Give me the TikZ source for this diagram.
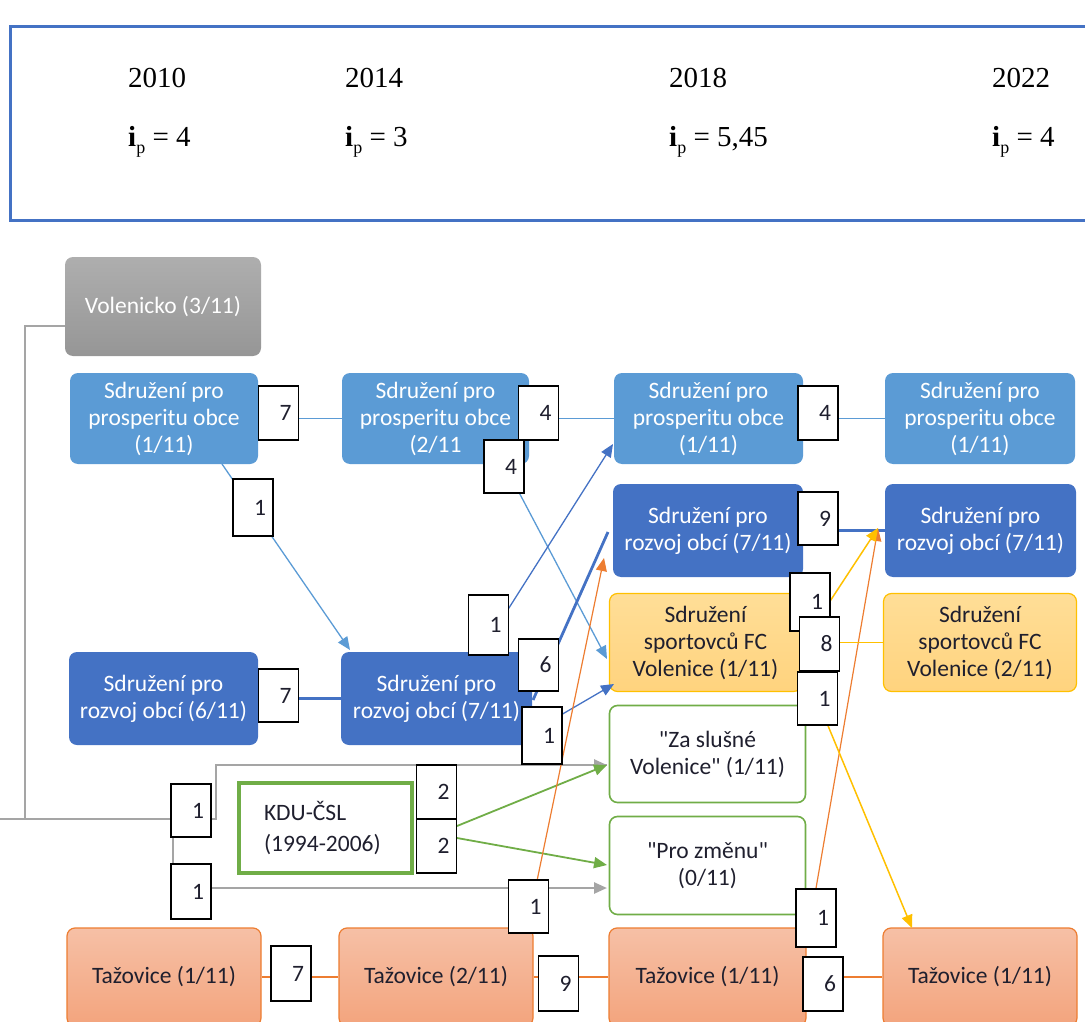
\documentclass[tikz,border=0pt]{standalone}
\usepackage{fontspec}
\setmainfont{Carlito}
\newfontfamily\qfont{Carlito}[Ligatures=TeXOff]
\newfontfamily\hdr{Liberation Serif}
\usetikzlibrary{arrows.meta}
\definecolor{lblue}{HTML}{5B9BD5}
\definecolor{dblue}{HTML}{4472C4}
\definecolor{volA}{HTML}{AEAEAE}
\definecolor{volB}{HTML}{969696}
\definecolor{gline}{HTML}{A5A5A5}
\definecolor{grn}{HTML}{70AD47}
\definecolor{orng}{HTML}{ED7D31}
\definecolor{gold}{HTML}{FFC000}
\definecolor{tazA}{HTML}{F6C0A6}
\definecolor{tazB}{HTML}{F3A47D}
\definecolor{fcA}{HTML}{FFDE97}
\definecolor{fcB}{HTML}{FFD37E}
\definecolor{txt}{HTML}{1F1F2E}
\begin{document}
\begin{tikzpicture}[x=1pt,y=-1pt,
  sz/.style 2 args={minimum width=#1,minimum height=#2},
  box/.style={rounded corners=8pt, inner sep=2pt, align=center, font=\fontsize{23.5}{27}\selectfont},
  volbox/.style={box, top color=volA, bottom color=volB, text=white},
  ppbox/.style={box, fill=lblue, text=white},
  robox/.style={box, fill=dblue, text=white},
  fcbox/.style={box, top color=fcA, bottom color=fcB, draw=gold, line width=1.2pt, text=txt},
  grbox/.style={box, fill=white, draw=grn, line width=1.6pt, text=txt, font=\qfont\fontsize{23.5}{27}\selectfont},
  tazbox/.style={box, top color=tazA, bottom color=tazB, draw=orng, line width=1.2pt, text=txt},
  lab/.style={draw=black, line width=1.6pt, fill=white, minimum width=40pt, minimum height=54pt,
    inner xsep=7pt, inner ysep=0pt, text width=26pt, align=right, font=\fontsize{23.5}{27}\selectfont, text=txt},
  arr/.style={-{Triangle[length=13pt,width=11pt]}},
  lb/.style={draw=lblue, line width=1.3pt},
  db/.style={draw=dblue, line width=1.3pt},
  dbthick/.style={draw=dblue, line width=2.8pt},
  gl/.style={draw=gline, line width=2.5pt},
  gn/.style={draw=grn, line width=1.8pt},
  orl/.style={draw=orng, line width=1.2pt},
  gdl/.style={draw=gold, line width=1.5pt},
  hdrtxt/.style={anchor=base west, inner sep=0pt, font=\hdr\fontsize{29}{32}\selectfont}
]
\useasboundingbox (0,0) rectangle (1085,1022);
% header
\draw[draw=dblue, line width=3pt] (1100,27) -- (10,27) -- (10,220) -- (1100,220);
\node[hdrtxt] (y10) at (128,88) {2010};
\node[hdrtxt] (y14) at (345,88) {2014};
\node[hdrtxt] (y18) at (669,88) {2018};
\node[hdrtxt] (y22) at (992,88) {2022};
\newcommand{\ipx}{{\bfseries i}\raisebox{-6pt}{\fontsize{18}{18}\selectfont p}}
\node[hdrtxt] (i10) at (128,147) {\ipx\ = 4};
\node[hdrtxt] (i14) at (345,147) {\ipx\ = 3};
\node[hdrtxt] (i18) at (669,147) {\ipx\ = 5,45};
\node[hdrtxt] (i22) at (992,147) {\ipx\ = 4};

% nodes
\node[volbox, sz={196pt}{99pt}] (vol) at (163,306.5) {Volenicko (3/11)};
\node[ppbox, sz={188pt}{91pt}] (pp10) at (164,418.5) {Sdružení pro\\prosperitu obce\\(1/11)};
\node[ppbox, sz={187pt}{91pt}] (pp14) at (435.5,418.5) {Sdružení pro\\prosperitu obce\\(2/11};
\node[ppbox, sz={189pt}{91pt}] (pp18) at (708.5,418.5) {Sdružení pro\\prosperitu obce\\(1/11)};
\node[ppbox, sz={190pt}{91pt}] (pp22) at (980,418.5) {Sdružení pro\\prosperitu obce\\(1/11)};
\node[robox, sz={190pt}{93pt}] (ro18) at (708,530.5) {Sdružení pro\\rozvoj obcí (7/11)};
\node[robox, sz={191pt}{93pt}] (ro22) at (980.5,530.5) {Sdružení pro\\rozvoj obcí (7/11)};
\node[robox, sz={189pt}{93pt}] (ro10) at (163.5,698.5) {Sdružení pro\\rozvoj obcí (6/11)};
\node[robox, sz={191pt}{93pt}] (ro14) at (436.5,698.5) {Sdružení pro\\rozvoj obcí (7/11)};
\node[fcbox, sz={192pt}{98pt}] (fc18) at (705.5,642.5) {Sdružení\\sportovců FC\\Volenice (1/11)};
\node[fcbox, sz={193pt}{98pt}] (fc22) at (980,642.5) {Sdružení\\sportovců FC\\Volenice (2/11)};
\node[grbox, sz={196pt}{97pt}] (zas) at (707.5,754) {"Za slušné\\Volenice" (1/11)};
\node[grbox, sz={196pt}{98pt}] (pz) at (707.5,865.5) {"Pro změnu"\\(0/11)};
\node[draw=grn, line width=4pt, minimum width=173pt, minimum height=90pt, inner xsep=23pt, text width=123pt,
  align=left, font=\fontsize{23.5}{31}\selectfont, text=txt] (kdu) at (325.5,828) {KDU-ČSL\\(1994-2006)};
\node[tazbox, sz={194pt}{98pt}] (tz10) at (164,977) {Tažovice (1/11)};
\node[tazbox, sz={194pt}{98pt}] (tz14) at (436,977) {Tažovice (2/11)};
\node[tazbox, sz={197pt}{98pt}] (tz18) at (707.5,977) {Tažovice (1/11)};
\node[tazbox, sz={194pt}{98pt}] (tz22) at (980,977) {Tažovice (1/11)};

% free-end coordinates
\coordinate (gin) at (0,819);
\coordinate (gv) at (65,326);
\coordinate (gk1) at (25,326);
\coordinate (gk2) at (25,819);
\coordinate (gk3) at (216,819);
\coordinate (gk4) at (216,765);
\coordinate (zasIn) at (607,765);
\coordinate (pzIn) at (607,888);
\coordinate (pzInG) at (607,865);
\coordinate (gs1) at (211,888);
\coordinate (kd1) at (457,826);
\coordinate (kd2) at (457,838);
\coordinate (a1s) at (222,464);
\coordinate (a1e) at (350,650);
\coordinate (a2s) at (504,464);
\coordinate (a2e) at (607,659);
\coordinate (b1s) at (481,652);
\coordinate (b1e) at (613,444);
\coordinate (b2s) at (533,700);
\coordinate (b2e) at (608,532);
\coordinate (b3s) at (530,733);
\coordinate (b3e) at (614,684);
\coordinate (o1s) at (527,929);
\coordinate (o1e) at (604,558);
\coordinate (o2s) at (809,929);
\coordinate (o2e) at (878,528);
\coordinate (y1s) at (800,647);
\coordinate (y2s) at (814,692);
\coordinate (y2e) at (912,928);

% connectors
\draw[gl] (gv) -- (gk1) -- (gk2);
\draw[gl] (gin) -- (gk3) -- (gk4) -- (zasIn);
\draw[gl] (173,837) -- (173,865);
\path[draw=gline, line width=2.5pt, arr] (gk3) -- (gk4) -- (zasIn);
\path[draw=gline, line width=2.5pt, arr] (gs1) -- (pzIn);
\draw[gn, arr] (kd1) -- (zasIn);
\draw[gn, arr] (kd2) -- (pzInG);

\draw[lb] (pp10.east) -- (pp14.west);
\draw[lb] (pp14.east) -- (pp18.west);
\draw[lb] (pp18.east) -- (pp22.west);
\draw[lb, arr] (a1s) -- (a1e);
\draw[lb, arr] (a2s) -- (a2e);
\draw[db, arr] (b1s) -- (b1e);
\draw[dbthick] (b2s) -- (b2e);
\draw[db, arr] (b3s) -- (b3e);
\draw[dbthick] (ro10.east) -- (ro14.west);
\draw[dbthick] (ro18.east) -- (ro22.west);

\draw[orl] (tz10.east) -- (tz14.west);
\draw[orl] (tz14.east) -- (tz18.west);
\draw[orl] (tz18.east) -- (tz22.west);
\draw[orl, arr] (o1s) -- (o1e);
\draw[orl, arr] (o2s) -- (o2e);

\draw[gdl] (fc18.east) -- (fc22.west);
\draw[gdl, arr] (y1s) -- (o2e);
\draw[gdl, arr] (y2s) -- (y2e);

% labels
\node[lab] (L1) at (278.5,413) {7};
\node[lab] (L2) at (538.5,413) {4};
\node[lab, minimum height=53pt] (L3) at (504,466.5) {4};
\node[lab] (L4) at (818,413) {4};
\node[lab, minimum height=57pt] (L5) at (253,507.5) {1};
\node[lab, minimum height=53pt] (L6) at (818,518.5) {9};
\node[lab, minimum height=60pt] (L7) at (488.5,625) {1};
\node[lab, minimum height=52pt] (L8) at (538.5,665) {6};
\node[lab, minimum height=53pt] (L9) at (278.5,695.5) {7};
\node[lab, minimum height=57pt] (L10) at (542,735.5) {1};
\node[lab, minimum height=58pt] (L11) at (810,602) {1};
\node[lab] (L12) at (819.5,644) {8};
\node[lab, minimum height=53pt] (L13) at (817.5,698.5) {1};
\node[lab, minimum height=53pt] (L14) at (191,810.5) {1};
\node[lab, minimum height=55pt] (L15) at (191,891.5) {1};
\node[lab] (L16) at (436.5,792) {2};
\node[lab] (L17) at (436.5,846) {2};
\node[lab, minimum height=53pt] (L18) at (528.5,906.5) {1};
\node[lab, minimum height=58pt] (L19) at (816,918) {1};
\node[lab, minimum height=55pt] (L20) at (291,973.5) {7};
\node[lab, minimum height=55pt] (L21) at (558.5,983.5) {9};
\node[lab, minimum height=54pt] (L22) at (823,984) {6};
\end{tikzpicture}
\end{document}
